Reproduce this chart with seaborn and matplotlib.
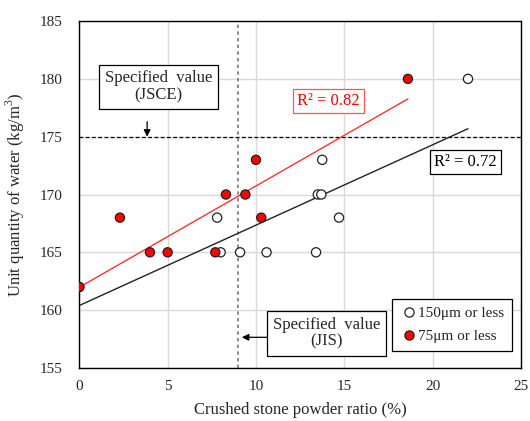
import matplotlib
matplotlib.use("Agg")
import matplotlib.pyplot as plt
import seaborn as sns
import pandas as pd
import numpy as np

# Data
x_150 = [0.0, 7.8, 8.0, 9.1, 10.6, 13.4, 13.5, 13.7, 13.75, 14.7, 22.0]
y_150 = [162, 168, 165, 165, 165, 165, 170, 170, 173, 168, 180]
x_75 = [0.0, 2.3, 4.0, 5.0, 7.7, 8.3, 9.4, 10.0, 10.3, 18.6]
y_75 = [162, 168, 165, 165, 165, 170, 170, 173, 168, 180]
groups = ["150μm or less", "75μm or less"]
r2_labels = ["R² = 0.72", "R² = 0.82"]
# trend line of the 150μm series (slope, intercept)
fit_150 = [0.695, 160.4]
jsce_value = 175
jis_value = 9
x_ticks = [0, 5, 10, 15, 20, 25]
y_ticks = [155, 160, 165, 170, 175, 180, 185]

df = pd.DataFrame({
    "x": x_150 + x_75,
    "y": y_150 + y_75,
    "group": [groups[0]] * len(x_150) + [groups[1]] * len(x_75),
})

sns.set_style("white")
plt.rcParams["font.family"] = ["Liberation Serif", "DejaVu Serif"]
plt.rcParams["mathtext.fontset"] = "custom"
plt.rcParams["mathtext.rm"] = "Liberation Serif"

fig = plt.figure(figsize=(5.30, 4.21), dpi=100)
ax = fig.add_axes([0.1496, 0.126, 0.8334, 0.824])

ax.set_xlim(0, 25)
ax.set_ylim(155, 185)
ax.set_xticks(x_ticks)
ax.set_yticks(y_ticks)
ax.grid(True, color="#d9d9d9", linewidth=1, zorder=0)
ax.set_axisbelow(True)

# reference lines
ax.axhline(jsce_value, color="black", linestyle=(0, (3, 2)), linewidth=0.9, zorder=1)
ax.axvline(jis_value, color="#777777", linestyle=(0, (2, 2)), linewidth=1.2, zorder=1)

# trend lines
fit_x = [min(x_150), max(x_150)]
fit_y = [fit_150[0] * v + fit_150[1] for v in fit_x]
sns.lineplot(x=fit_x, y=fit_y, color="#222222", linewidth=1.0, ax=ax, zorder=2)
sns.regplot(data=df[df.group == groups[1]], x="x", y="y", scatter=False, ci=None,
            ax=ax, line_kws=dict(color="#ff3333", linewidth=1.0, zorder=2))

# scatter
sns.scatterplot(data=df, x="x", y="y", hue="group", hue_order=groups,
                palette={groups[0]: "white", groups[1]: "#ff0000"},
                edgecolor="#222222", linewidth=0.9, s=44, ax=ax, zorder=3,
                legend=True)

ax.set_xlabel("Crushed stone powder ratio (%)", fontsize=12, labelpad=6)
ax.set_ylabel("Unit quantity of water (kg/m$^3$)", fontsize=12)
ax.yaxis.set_label_coords(-0.118, 0.5)
ax.tick_params(direction="in", length=4, labelsize=11, width=0.8,
               color="#555555")
ax.tick_params(axis="y", pad=12)
ax.tick_params(axis="x", pad=9)
for s in ax.spines.values():
    s.set_color("black")
    s.set_linewidth(1.0)

handles, labels = ax.get_legend_handles_labels()
leg = ax.legend(handles, labels, loc="lower right", bbox_to_anchor=(0.98, 0.049),
                borderaxespad=0, fancybox=False, edgecolor="black", framealpha=1,
                fontsize=11, handletextpad=0.0, markerscale=1.0,
                labelspacing=0.6, borderpad=0.5, handlelength=1.2)
leg.get_frame().set_linewidth(0.9)

# annotations
box_kw = dict(boxstyle="square,pad=0.35", fc="white", ec="black", lw=0.9)
ax.annotate("", xy=(3.84, jsce_value), xytext=(3.84, 176.3),
            arrowprops=dict(arrowstyle="-|>", color="black", lw=0.9,
                            mutation_scale=10, shrinkA=0, shrinkB=0), zorder=4)
ax.text(4.5, 179.3, "Specified  value\n(JSCE)", ha="center", va="center",
        fontsize=12, bbox=box_kw, zorder=5, linespacing=1.1)

ax.annotate("", xy=(9.2, 157.65), xytext=(10.9, 157.65),
            arrowprops=dict(arrowstyle="-|>", color="black", lw=0.9,
                            mutation_scale=10, shrinkA=0, shrinkB=0), zorder=4)
ax.text(14.0, 158.0, "Specified  value\n(JIS)", ha="center", va="center",
        fontsize=12, bbox=box_kw, zorder=5, linespacing=1.1)

ax.text(14.1, 178.1, r2_labels[1], ha="center", va="center", fontsize=12,
        color="#ff0000",
        bbox=dict(boxstyle="square,pad=0.25", fc="white", ec="#ff5555", lw=0.9),
        zorder=5)
ax.text(21.85, 172.8, r2_labels[0], ha="center", va="center", fontsize=12,
        color="black",
        bbox=dict(boxstyle="square,pad=0.25", fc="white", ec="black", lw=0.9),
        zorder=5)

fig.savefig("out.png", dpi=100)
